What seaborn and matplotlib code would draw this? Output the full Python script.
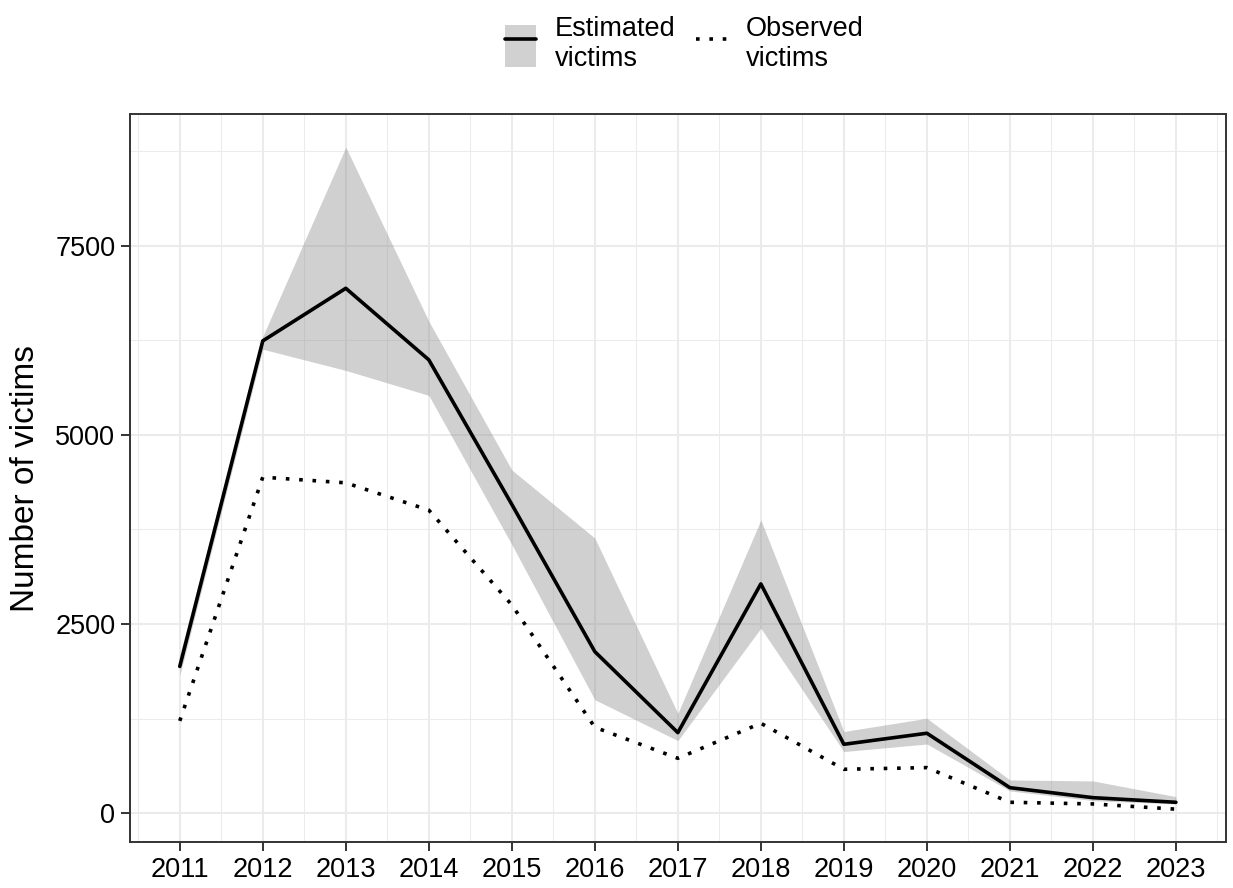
import matplotlib
matplotlib.use("Agg")
import matplotlib.pyplot as plt
from matplotlib.lines import Line2D
from matplotlib.patches import Patch
from matplotlib.ticker import MultipleLocator
import pandas as pd
import seaborn as sns

years = [2011, 2012, 2013, 2014, 2015, 2016, 2017, 2018, 2019, 2020, 2021, 2022, 2023]
estimated = [1940, 6240, 6935, 5990, 4080, 2135, 1065, 3030, 911, 1057, 338, 206, 145]
est_lower = [1820, 6130, 5850, 5520, 3550, 1500, 960, 2445, 815, 915, 295, 167, 123]
est_upper = [2090, 6300, 8800, 6500, 4535, 3635, 1320, 3875, 1080, 1255, 440, 427, 220]
observed = [1220, 4440, 4365, 4005, 2752, 1136, 726, 1189, 581, 603, 145, 123, 54]

df = pd.DataFrame({"year": years, "estimated": estimated, "lower": est_lower,
                   "upper": est_upper, "observed": observed})

sns.set_style("white")
plt.rcParams["font.family"] = ["Liberation Sans", "DejaVu Sans"]
plt.rcParams["text.color"] = "black"
plt.rcParams["axes.labelcolor"] = "black"

fig = plt.figure(figsize=(12.33, 8.88), dpi=100)
ax = fig.add_axes([0.1054, 0.0515, 0.8887, 0.8201])

ax.fill_between(df["year"], df["lower"], df["upper"], color="#7f7f7f", alpha=0.36,
                linewidth=0, zorder=2)
sns.lineplot(data=df, x="year", y="estimated", ax=ax, color="black", linewidth=2.6,
             zorder=3)
sns.lineplot(data=df, x="year", y="observed", ax=ax, color="black", linewidth=2.6,
             dashes=False, zorder=3)
ax.lines[-1].set_dashes((1, 2.7))

# ggplot-like 5% expansion
lo = min(df["lower"].min(), df["observed"].min())
hi = max(df["upper"].max(), df["estimated"].max())
pad = (hi - lo) * 0.05
ax.set_ylim(lo - pad, hi + pad)
xpad = (years[-1] - years[0]) * 0.05
ax.set_xlim(years[0] - xpad, years[-1] + xpad)

ax.set_xticks(years)
ax.set_xticklabels([str(y) for y in years])
ax.xaxis.set_minor_locator(MultipleLocator(0.5))
ax.yaxis.set_major_locator(MultipleLocator(2500))
ax.yaxis.set_minor_locator(MultipleLocator(1250))

ax.grid(which="major", color="#ebebeb", linewidth=1.45, zorder=0)
ax.grid(which="minor", color="#ebebeb", linewidth=0.75, zorder=0)
ax.set_axisbelow(True)
for s in ax.spines.values():
    s.set_color("#333333")
    s.set_linewidth(1.4)
    s.set_visible(True)

ax.tick_params(which="major", length=6.5, width=1.4, color="#333333",
               labelsize=19.5, labelcolor="black", pad=4, bottom=True, left=True)
ax.tick_params(which="minor", length=0)

ax.set_xlabel("")
ax.set_ylabel("Number of victims", fontsize=24, labelpad=10, color="black")

h_est = (Patch(facecolor="#d1d1d1", edgecolor="none"),
         Line2D([], [], color="black", linewidth=2.6))
h_obs = Line2D([], [], color="black", linewidth=2.6, dashes=(1, 2.7))
fig.legend([h_est, h_obs], ["Estimated\nvictims", "Observed\nvictims"],
           loc="upper center", bbox_to_anchor=(0.555, 1.0), ncol=2, frameon=False,
           fontsize=19.5, handlelength=1.15, handleheight=2.0, handletextpad=0.7,
           columnspacing=0.75, borderaxespad=0.2, labelspacing=0.3,
           labelcolor="black")

fig.savefig("out.png", dpi=100)
